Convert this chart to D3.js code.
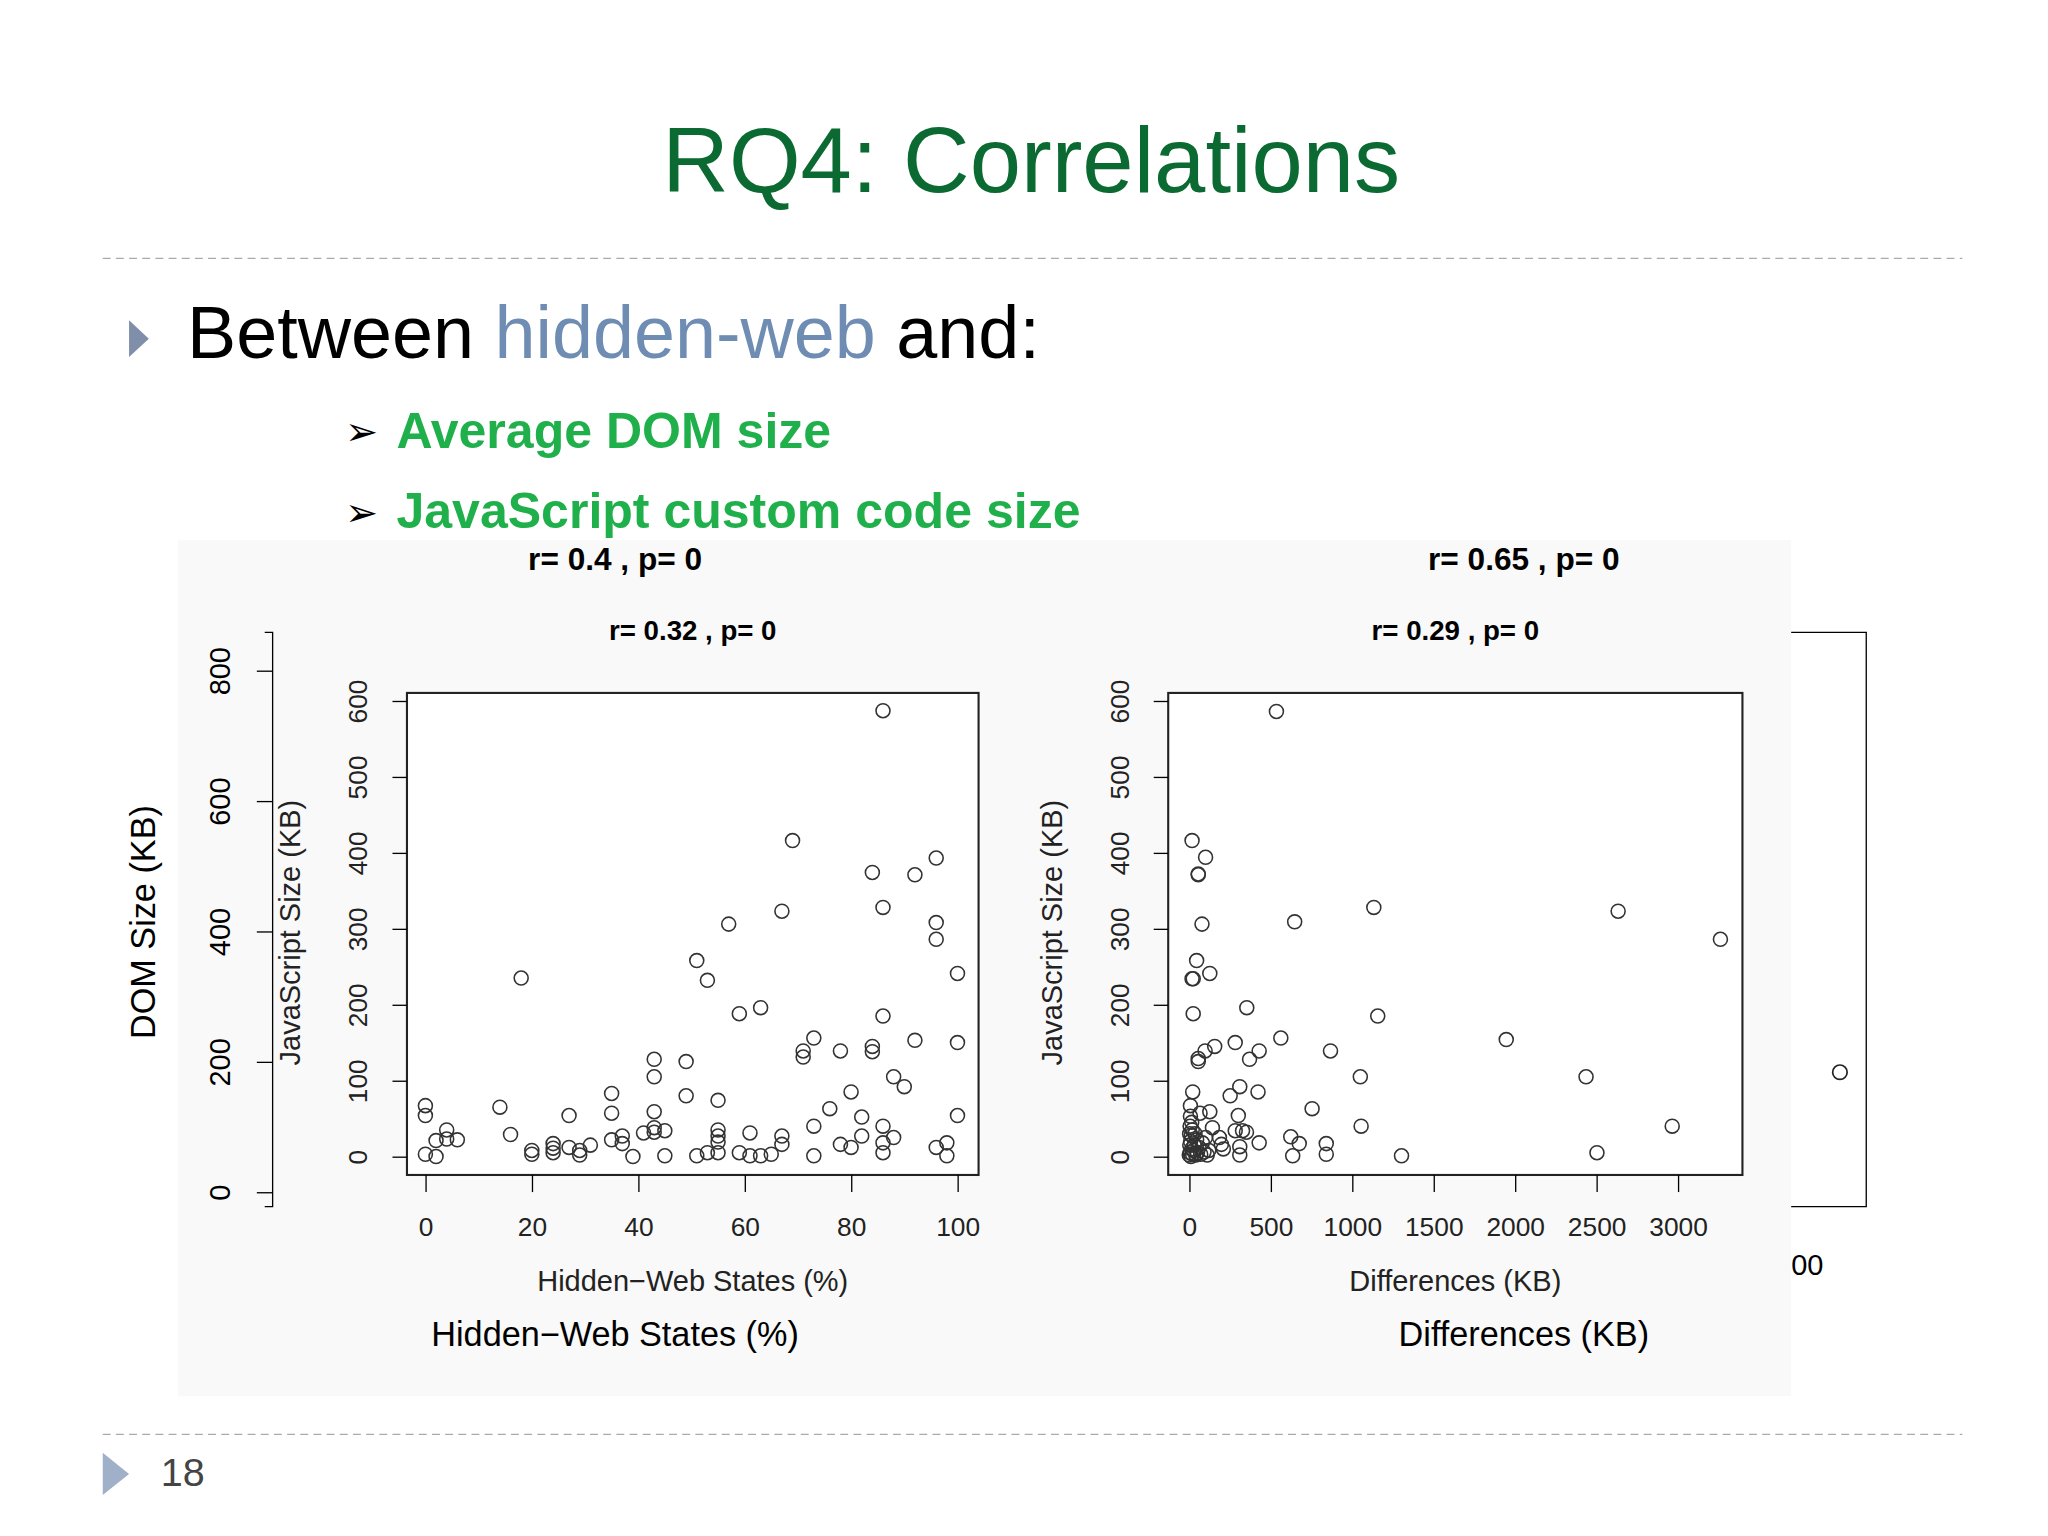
<!DOCTYPE html>
<html><head><meta charset="utf-8">
<script src="https://cdn.jsdelivr.net/npm/d3@7"></script>
<style>body{margin:0;background:#fff}</style>
</head><body><svg></svg>
<script>
// hidden-web states (%) vs JavaScript size (KB)
let hwX = [0,0,0,2,2,4,4,6,14,16,18,20,20,24,24,24,27,27,29,29,31,35,35,35,37,37,39,41,43,43,43,43,43,45,45,49,49,51,51,53,53,55,55,55,55,55,57,59,59,61,61,63,63,65,67,67,67,69,71,71,73,73,73,76,78,78,80,80,82,82,84,84,84,86,86,86,86,86,86,88,88,90,92,92,96,96,96,96,98,98,100,100,100];
let hwY = [67,54,3,0,21,35,23,22,65,29,235,8,3,17,11,5,54,12,8,2,15,83,57,22,27,17,0,31,128,105,59,38,32,34,1,125,80,258,1,232,5,74,35,27,19,5,306,188,5,31,1,196,1,3,323,27,16,416,139,131,156,40,1,63,139,16,85,12,52,27,374,145,138,587,328,185,40,18,5,105,25,92,371,153,393,308,286,12,18,1,241,150,54];
// differences (KB) vs JavaScript size (KB)
let dfX = [535,17,100,55,55,78,1133,647,2633,3261,45,126,17,24,24,353,1157,562,156,97,282,429,55,55,370,867,1946,1050,2436,21,310,251,422,7,7,126,66,301,754,1055,2965,142,282,327,351,185,197,209,310,310,429,623,675,635,841,841,1303,2503,
  0,5,10,15,20,3,8,12,18,25,30,40,45,50,60,70,80,90,100,110,120,5,15,2,35];
let dfY = [586,416,394,372,371,306,328,309,323,286,258,241,234,234,188,196,185,156,145,139,150,139,129,125,128,139,154,105,105,85,92,80,85,67,53,59,57,54,63,40,40,38,34,34,32,25,16,10,13,2,18,26,17,1,17,3,1,5,
  2,5,0,10,3,15,20,28,35,8,15,2,22,5,12,3,18,6,25,2,8,40,45,30,30];
let domTicks = [0,200,400,600,800];
let hwTicks = [0,20,40,60,80,100];
let dfTicks = [0,500,1000,1500,2000,2500,3000];
let jsTicks = [0,100,200,300,400,500,600];

let svg = d3.select('svg').attr('width', 2048).attr('height', 1536)
    .attr('viewBox', '0 0 1555 1166').attr('font-family', 'Liberation Sans, Arial, sans-serif');

svg.append('text').attr('x', 783).attr('y', 146).attr('text-anchor', 'middle')
    .attr('font-size', 70).attr('fill', '#0b6a32').text('RQ4: Correlations');
[196, 1089].forEach(y => svg.append('line').attr('x1', 78).attr('x2', 1490).attr('y1', y).attr('y2', y)
    .attr('stroke', '#aaa').attr('stroke-dasharray', '6,4'));
svg.append('path').attr('d', 'M98,243 L113,257 L98,271 Z').attr('fill', '#7f8fa9');
let t = svg.append('text').attr('x', 142).attr('y', 272).attr('font-size', 56).attr('fill', '#000');
t.append('tspan').text('Between ');
t.append('tspan').attr('fill', '#6f8db3').text('hidden-web');
t.append('tspan').text(' and:');
[['Average DOM size', 340], ['JavaScript custom code size', 401]].forEach(([s, y]) => {
    svg.append('text').attr('x', 262).attr('y', y - 2).attr('font-size', 30).attr('font-family', 'DejaVu Sans').text('➢');
    svg.append('text').attr('x', 301).attr('y', y).attr('font-size', 38).attr('font-weight', 'bold')
        .attr('fill', '#1fb04b').text(s);
});

svg.append('rect').attr('x', 135).attr('y', 410).attr('width', 1225).attr('height', 650).attr('fill', '#f9f9f9');
[['r= 0.4 , p= 0', 467], ['r= 0.65 , p= 0', 1157]].forEach(([s, x]) =>
    svg.append('text').attr('x', x).attr('y', 433).attr('text-anchor', 'middle').attr('font-size', 24)
        .attr('font-weight', 'bold').text(s));

// outer DOM axis
let dom = d3.scaleLinear().domain([0, 800]).range([905, 509]);
svg.append('g').attr('transform', 'translate(207,0)')
    .call(d3.axisLeft(dom).tickValues(domTicks).tickSize(12).tickSizeOuter(0).tickPadding(25))
    .call(g => g.select('.domain').attr('d', 'M-6,480H0V916H-6'))
    .call(g => g.selectAll('text').attr('font-size', 22).attr('transform', function () {
        return `rotate(-90,${-37},${this.parentNode ? 0 : 0})`;
    }).attr('x', 0).attr('y', 0).attr('dy', 0)
        .attr('transform', 'translate(-32,0) rotate(-90)').attr('text-anchor', 'middle'));
svg.append('text').attr('transform', 'translate(118,700) rotate(-90)').attr('text-anchor', 'middle')
    .attr('font-size', 26).text('DOM Size (KB)');
svg.append('path').attr('d', 'M1360,480H1417V916H1360').attr('fill', 'none').attr('stroke', '#000');
svg.append('circle').attr('cx', 1397).attr('cy', 814).attr('r', 5.5).attr('fill', 'none').attr('stroke', '#222').attr('stroke-width', 1.3);
svg.append('text').attr('x', 1360).attr('y', 968).attr('font-size', 22).text('00');
[['Hidden\u2212Web States (%)', 467], ['Differences (KB)', 1157]].forEach(([s, x]) =>
    svg.append('text').attr('x', x).attr('y', 1022).attr('text-anchor', 'middle').attr('font-size', 26).text(s));

let yJs = d3.scaleLinear().domain([0, 600]).range([878, 532]);

function panel(x0, x1, xDomain, xRange, ticks, xs, ys, title, xlab) {
    let x = d3.scaleLinear().domain(xDomain).range(xRange);
    let g = svg.append('g');
    g.append('rect').attr('x', x0).attr('y', 526).attr('width', x1 - x0).attr('height', 366)
        .attr('fill', '#fff').attr('stroke', '#222').attr('stroke-width', 1.6);
    g.append('g').attr('transform', 'translate(0,892)')
        .call(d3.axisBottom(x).tickValues(ticks).tickSize(13).tickFormat(d3.format('d')))
        .call(a => a.select('.domain').remove())
        .call(a => a.selectAll('text').attr('font-size', 20).attr('dy', 30).attr('fill', '#222'));
    g.append('g').attr('transform', `translate(${x0},0)`)
        .call(d3.axisLeft(yJs).tickValues(jsTicks).tickSize(11))
        .call(a => a.select('.domain').remove())
        .call(a => a.selectAll('text').attr('font-size', 20).attr('x', 0).attr('dy', 0)
            .attr('transform', 'translate(-30,0) rotate(-90)').attr('text-anchor', 'middle').attr('fill', '#222'));
    g.append('text').attr('transform', `translate(${x0 - 81},708) rotate(-90)`).attr('text-anchor', 'middle')
        .attr('font-size', 22).attr('fill', '#222').text('JavaScript Size (KB)');
    g.append('text').attr('x', (x0 + x1) / 2).attr('y', 486).attr('text-anchor', 'middle')
        .attr('font-size', 21).attr('font-weight', 'bold').text(title);
    g.append('text').attr('x', (x0 + x1) / 2).attr('y', 980).attr('text-anchor', 'middle')
        .attr('font-size', 22).attr('fill', '#222').text(xlab);
    g.selectAll('circle.pt').data(xs).enter().append('circle').attr('class', 'pt')
        .attr('cx', d => x(d)).attr('cy', (d, i) => yJs(ys[i])).attr('r', 5.3)
        .attr('fill', 'none').attr('stroke', '#333').attr('stroke-width', 1.2);
}
panel(309, 743, [0, 100], [323, 727], hwTicks, hwX, hwY, 'r= 0.32 , p= 0', 'Hidden\u2212Web States (%)');
panel(887, 1323, [0, 3000], [903, 1274], dfTicks, dfX, dfY, 'r= 0.29 , p= 0', 'Differences (KB)');

svg.append('path').attr('d', 'M78,1103 L98,1119 L78,1135 Z').attr('fill', '#9fb0c8');
svg.append('text').attr('x', 122).attr('y', 1128).attr('font-size', 30).attr('fill', '#444').text('18');
</script></body></html>
